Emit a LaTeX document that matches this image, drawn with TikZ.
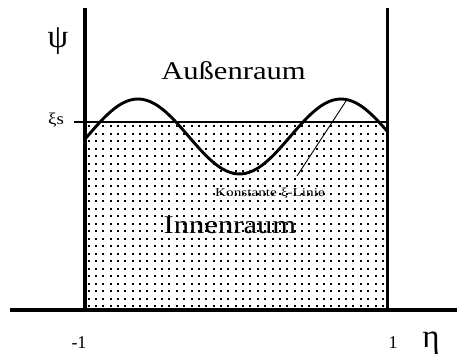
\documentclass[tikz,border=0pt]{standalone}
\usepackage{fontspec}
\setmainfont{Liberation Serif}
\usepackage{tikz}
\usetikzlibrary{positioning}

\begin{document}
\begin{tikzpicture}[x=1pt,y=-1pt,
      wall/.style={line width=3.8pt},
      level/.style={line width=2.4pt},
      wave/.style={line width=2.9pt},
      bigtext/.style={font=\fontsize{25.5}{27}\selectfont,xscale=1.2,inner sep=0pt},
      greek/.style={font=\fontsize{33}{35}\selectfont,inner sep=0pt},
      tick/.style={font=\fontsize{18}{20}\selectfont,inner sep=0pt,anchor=base},
      dot/.style={fill=black}
    ]
      \useasboundingbox (0,0) rectangle (457,356);
      % dotted inner region
      \foreach \i in {0,...,40}{
        \foreach \j in {0,...,24}{
          \fill[dot] ({88.5+\i*7.36-1},{126+\j*7.5-1}) rectangle +(2,2);
        }
      }
      \coordinate (lt) at (85,8);
      \coordinate (lb) at (85,311);
      \coordinate (rt) at (387.5,8);
      \coordinate (rb) at (387.5,311);
      \coordinate (ax0) at (10,310);
      \coordinate (ax1) at (457,310);
      \coordinate (xs0) at (74,122);
      \coordinate (xs1) at (387,122);
      \draw[wall] (lt)--(lb);
      \draw[wall] (rt)--(rb);
      \draw[wall] (ax0)--(ax1);
      \draw[level] (xs0)--(xs1);
      \draw[wave] plot[domain=85:387,samples=80,smooth] (\x,{136.5-37.5*cos((\x-138)*1.7734)});
      \node[greek] (psi) at (58,41.5) {ψ};
      \node[greek,anchor=base] (eta) at (431,347) {η};
      \node[font=\fontsize{16.5}{18}\selectfont,xscale=1.15,inner sep=0pt,anchor=base] (xis) at (56,124.5) {ξs};
      \node[tick] (mone) at (79,348.5) {-1};
      \node[tick] (one) at (393,348.5) {1};
      \node[bigtext,anchor=base] (aussen) at (233.5,79) {Außenraum};
      \node[bigtext,anchor=base] (innen) at (230,233) {Innenraum};
      \node[font=\fontsize{12}{13}\selectfont,xscale=1.27,inner sep=0pt,anchor=base] (konst) at (270,196.5) {Konstante ξ-Linie};
      \coordinate (kt) at (346,101);
      \coordinate (kb) at (297,176);
      \draw[line width=0.9pt] (kt)--(kb);
    \end{tikzpicture}
\end{document}
